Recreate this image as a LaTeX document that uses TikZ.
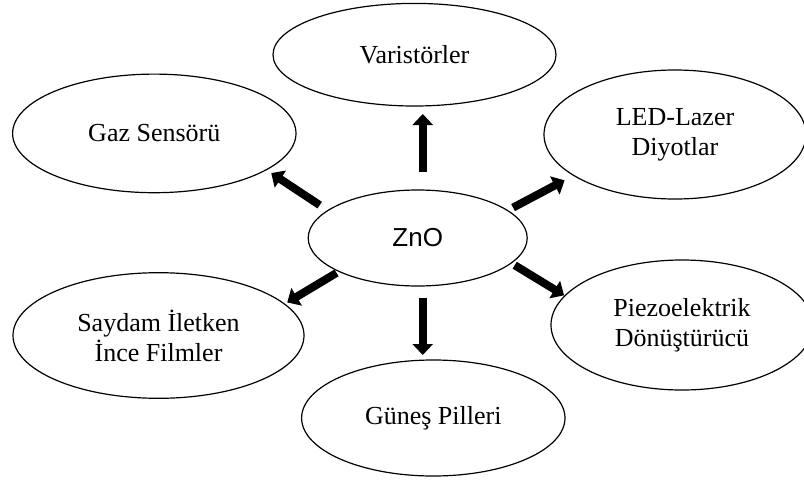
\documentclass[tikz,border=0pt]{standalone}
\usepackage{fontspec}
\setmainfont{Liberation Serif}
\newfontfamily\zincfont{Liberation Sans}
\usetikzlibrary{shapes.geometric,arrows.meta}

\begin{document}
\begin{tikzpicture}[x=1pt,y=-1pt,
		bubble/.style={draw, ellipse, line width=1.2pt, inner sep=0pt, outer sep=0pt, align=center, font=\fontsize{26}{30}\selectfont},
		fat/.style={line width=8pt, -{Triangle[width=20pt,length=11pt]}}]
				\useasboundingbox (0,0) rectangle (804,480);

				\node[bubble, minimum width=283pt, minimum height=102.6pt] (var) at (414.5,54.7) {Varistörler};
				\node[bubble, minimum width=283.4pt, minimum height=118.6pt] (gaz) at (154.3,133.4) {Gaz Sensörü};
				\node[bubble, minimum width=262pt, minimum height=129pt] (led) at (675,134.5) {LED-Lazer\\Diyotlar};
				\node[bubble, minimum width=219pt, minimum height=96pt, font=\zincfont\fontsize{26}{30}\selectfont] (zno) at (417.7,238) {ZnO};
				\node[bubble, minimum width=291pt, minimum height=125.6pt] (film) at (158.5,335.5) {Saydam İletken\\İnce Filmler};
				\node[bubble, minimum width=262pt, minimum height=130pt] (piezo) at (682,325) {Piezoelektrik\\Dönüştürücü};
				\node[bubble, minimum width=263.4pt, minimum height=116pt] (sun) at (433.3,418) {Güneş Pilleri};

				\draw[fat, shorten <=18pt, shorten >=8pt] (zno.84) -- (zno.84 |- var.south);
				\draw[fat, shorten <=11.7pt, shorten >=5pt] (zno.-84) -- (zno.-84 |- sun.north);

				\foreach \from/\to/\s/\e in {163/gaz.-18/9.8/6, 17/led.202/6.3/10.4, 203/film.14/2.9/3.2, -15/piezo.166/4.2/1}{
						\draw[fat, shorten <=\s pt, shorten >=\e pt] (zno.\from) -- (\to);
					}
			\end{tikzpicture}
\end{document}
